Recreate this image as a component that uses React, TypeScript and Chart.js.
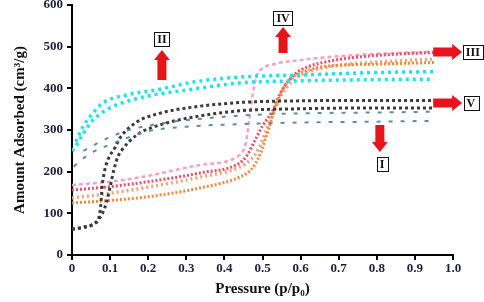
import React, { useEffect, useRef } from 'react';
import { Chart, registerables } from 'chart.js';

Chart.register(...registerables);

// ---- data (pressure p/p0, amount adsorbed cm3/g) ----
const cyanUpP = [0.01, 0.03, 0.05, 0.081, 0.144, 0.231, 0.318, 0.44, 0.6, 0.8, 0.95];
const cyanUpV = [272, 310, 335, 365, 384, 398, 415, 427, 432, 438, 440];
const cyanLowP = [0, 0.008, 0.03, 0.055, 0.1, 0.186, 0.318, 0.44, 0.6, 0.8, 0.95];
const cyanLowV = [250, 259, 292, 324, 353, 379, 398, 413, 418, 421, 422];

const blackUpP = [0, 0.03, 0.06, 0.07, 0.075, 0.079, 0.085, 0.095, 0.113, 0.126, 0.17, 0.23, 0.318, 0.44, 0.6, 0.8, 0.95];
const blackUpV = [62, 66, 76, 88, 115, 163, 200, 230, 258, 281, 319, 340, 355, 366, 370, 371, 371];
const blackLowP = [0, 0.03, 0.06, 0.07, 0.08, 0.09, 0.1, 0.11, 0.12, 0.131, 0.17, 0.23, 0.318, 0.44, 0.6, 0.8, 0.95];
const blackLowV = [62, 67, 76, 86, 100, 125, 163, 205, 235, 252, 288, 312, 331, 346, 351, 353, 353];

const tealUpP = [0.03, 0.06, 0.1, 0.15, 0.25, 0.35, 0.45, 0.6, 0.8, 0.95];
const tealUpV = [250, 265, 283, 300, 318, 328, 335, 340, 342, 344];
const tealLowP = [0.005, 0.02, 0.05, 0.1, 0.15, 0.2, 0.3, 0.44, 0.6, 0.8, 0.95];
const tealLowV = [212, 225, 245, 265, 283, 297, 308, 314, 318, 320, 322];

const pinkP = [0, 0.1, 0.2, 0.336, 0.44, 0.455, 0.465, 0.475, 0.485, 0.5, 0.53, 0.6, 0.7, 0.8, 0.95];
const pinkV = [168, 176, 190, 216, 240, 265, 320, 390, 430, 448, 458, 468, 477, 483, 488];

const redP = [0, 0.1, 0.2, 0.336, 0.44, 0.46, 0.48, 0.5, 0.528, 0.545, 0.564, 0.59, 0.617, 0.68, 0.75, 0.85, 0.95];
const redV = [156, 164, 176, 197, 221, 240, 275, 310, 348, 385, 413, 438, 451, 466, 475, 482, 486];

const salmonP = [0, 0.1, 0.2, 0.336, 0.44, 0.47, 0.49, 0.51, 0.53, 0.55, 0.58, 0.62, 0.7, 0.8, 0.95];
const salmonV = [137, 148, 163, 187, 211, 230, 255, 300, 345, 385, 418, 440, 455, 463, 470];

const orangeP = [0, 0.1, 0.2, 0.336, 0.44, 0.47, 0.493, 0.515, 0.538, 0.555, 0.572, 0.62, 0.66, 0.8, 0.95];
const orangeV = [125, 131, 140, 161, 187, 205, 240, 300, 365, 400, 422, 443, 452, 458, 462];

const xTickValues = [0, 0.1, 0.2, 0.3, 0.4, 0.5, 0.6, 0.7, 0.8, 0.9, 1.0];
const yTickValues = [0, 100, 200, 300, 400, 500, 600];

// ---- annotations (data coordinates) ----
const noteLabels = ['I', 'II', 'III', 'IV', 'V'];
const noteBoxP = [0.814, 0.236, 1.052, 0.554, 1.047];
const noteBoxV = [218, 518, 487, 569, 365];
const arrowFromP = [0.808, 0.236, 0.948, 0.554, 0.948];
const arrowFromV = [312, 420, 487, 485, 365];
const arrowToP = [0.808, 0.236, 1.024, 0.554, 1.024];
const arrowToV = [247, 492, 487, 547, 365];

const zip = (ps: number[], vs: number[]) => ps.map((p, i) => ({ x: p, y: vs[i] }));

function drawArrow(ctx: CanvasRenderingContext2D, x1: number, y1: number, x2: number, y2: number) {
  const len = Math.hypot(x2 - x1, y2 - y1);
  const ang = Math.atan2(y2 - y1, x2 - x1);
  const sw = 4.5, hw = 8, hl = 10;
  ctx.save();
  ctx.translate(x1, y1);
  ctx.rotate(ang);
  ctx.beginPath();
  ctx.moveTo(0, -sw);
  ctx.lineTo(len - hl, -sw);
  ctx.lineTo(len - hl, -hw);
  ctx.lineTo(len, 0);
  ctx.lineTo(len - hl, hw);
  ctx.lineTo(len - hl, sw);
  ctx.lineTo(0, sw);
  ctx.closePath();
  ctx.fillStyle = '#e8141c';
  ctx.fill();
  ctx.restore();
}

const notesPlugin = {
  id: 'notes',
  afterDatasetsDraw(chart: any) {
    const { ctx, scales } = chart;
    const xs = scales.x, ys = scales.y;
    ctx.save();
    noteLabels.forEach((lab, i) => {
      drawArrow(
        ctx,
        xs.getPixelForValue(arrowFromP[i]), ys.getPixelForValue(arrowFromV[i]),
        xs.getPixelForValue(arrowToP[i]), ys.getPixelForValue(arrowToV[i])
      );
      const cx = xs.getPixelForValue(noteBoxP[i]);
      const cy = ys.getPixelForValue(noteBoxV[i]);
      ctx.font = 'bold 12px "Liberation Serif", serif';
      const w = ctx.measureText(lab).width + 6;
      const h = 14;
      ctx.fillStyle = '#ffffff';
      ctx.fillRect(cx - w / 2, cy - h / 2, w, h);
      ctx.strokeStyle = '#111';
      ctx.lineWidth = 1;
      ctx.strokeRect(Math.round(cx - w / 2) + 0.5, Math.round(cy - h / 2) + 0.5, Math.round(w), h);
      ctx.fillStyle = '#111';
      ctx.textAlign = 'center';
      ctx.textBaseline = 'middle';
      ctx.fillText(lab, cx, cy + 1);
    });
    ctx.restore();
  },
};

function series(label: string, ps: number[], vs: number[], color: string, width: number, dash: number[]) {
  return {
    label,
    data: zip(ps, vs),
    borderColor: color,
    backgroundColor: color,
    borderWidth: width,
    borderDash: dash,
    borderCapStyle: 'butt' as const,
    pointRadius: 0,
    fill: false,
    cubicInterpolationMode: 'monotone' as const,
  };
}

export default function App() {
  const ref = useRef<HTMLCanvasElement>(null);
  useEffect(() => {
    document.body.style.margin = '0';
    const canvas = ref.current;
    if (!canvas) return;
    const tickFont = { family: '"Liberation Serif", "Times New Roman", serif', size: 13, weight: 'bold' as const };
    const titleFont = { family: '"Liberation Serif", "Times New Roman", serif', size: 15, weight: 'bold' as const };
    const chart = new Chart(canvas, {
      type: 'line',
      data: {
        datasets: [
          series('I-a', tealLowP, tealLowV, '#5f8f93', 2, [4, 8]),
          series('I-d', tealUpP, tealUpV, '#5f8f93', 2, [4, 8]),
          series('V-a', blackLowP, blackLowV, '#3a3a3a', 3, [3, 3]),
          series('V-d', blackUpP, blackUpV, '#3a3a3a', 3, [3, 3]),
          series('II-a', cyanLowP, cyanLowV, '#1ee3e8', 3.5, [3, 4]),
          series('II-d', cyanUpP, cyanUpV, '#1ee3e8', 3.5, [3, 4]),
          series('III-o', orangeP, orangeV, '#f5873a', 3, [2, 2]),
          series('III-s', salmonP, salmonV, '#f3a27c', 3.5, [2, 3]),
          series('IV-r', redP, redV, '#ec4d6a', 3, [2, 2]),
          series('IV-p', pinkP, pinkV, '#f5a3bd', 2.5, [4, 3]),
        ],
      },
      options: {
        responsive: false,
        animation: false,
        events: [],
        layout: { padding: { left: 0, right: 31, top: 5, bottom: 0 } },
        plugins: { legend: { display: false }, tooltip: { enabled: false } },
        scales: {
          x: {
            type: 'linear',
            min: 0,
            max: 1,
            afterBuildTicks: (s: any) => { s.ticks = xTickValues.map((v) => ({ value: v })); },
            afterFit: (s: any) => { s.height = 47; s.paddingLeft = 0; s.paddingRight = 0; },
            ticks: {
              font: tickFont,
              color: '#1d1d3d',
              padding: 1,
              maxRotation: 0,
              autoSkip: false,
              callback: (v: any) => (Number(v) === 0 ? '0' : Number(v).toFixed(1)),
            },
            grid: { display: true, drawOnChartArea: false, drawTicks: true, tickLength: 5, color: '#000', lineWidth: 2 },
            border: { display: true, color: '#000', width: 2 },
            title: { display: true, text: 'Pressure (p/p₀)', font: titleFont, color: '#111', padding: { top: 0, bottom: 4 } },
          },
          y: {
            type: 'linear',
            min: 0,
            max: 600,
            afterBuildTicks: (s: any) => { s.ticks = yTickValues.map((v) => ({ value: v })); },
            afterFit: (s: any) => { s.width = 72; s.paddingTop = 0; s.paddingBottom = 0; },
            ticks: { font: tickFont, color: '#1d1d3d', padding: 4, autoSkip: false },
            grid: { display: true, drawOnChartArea: false, drawTicks: true, tickLength: 5, color: '#000', lineWidth: 2 },
            border: { display: true, color: '#000', width: 2 },
            title: { display: true, text: 'Amount Adsorbed (cm³/g)', font: titleFont, color: '#111', padding: { top: 11, bottom: 0 } },
          },
        },
      },
      plugins: [notesPlugin],
    });
    return () => chart.destroy();
  }, []);
  return (
    <div style={{ width: 484, height: 302 }}>
      <canvas ref={ref} width={484} height={302} style={{ display: 'block' }} />
    </div>
  );
}
